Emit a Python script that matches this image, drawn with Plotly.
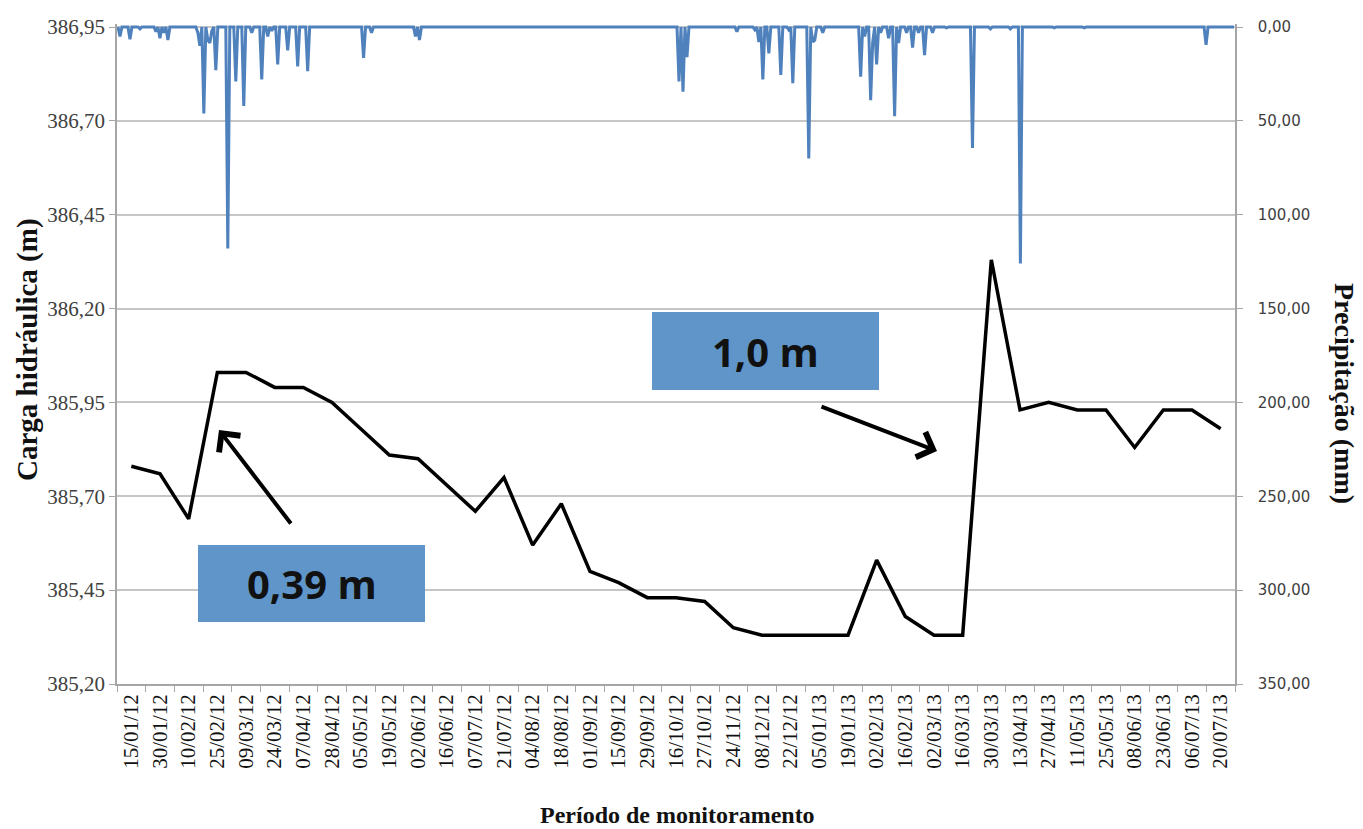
import pandas as pd
import plotly.graph_objects as go

# Datas de leitura do piezômetro (eixo de categorias)
datas = [
    "15/01/12", "30/01/12", "10/02/12", "25/02/12", "09/03/12", "24/03/12",
    "07/04/12", "28/04/12", "05/05/12", "19/05/12", "02/06/12", "16/06/12",
    "07/07/12", "21/07/12", "04/08/12", "18/08/12", "01/09/12", "15/09/12",
    "29/09/12", "16/10/12", "27/10/12", "24/11/12", "08/12/12", "22/12/12",
    "05/01/13", "19/01/13", "02/02/13", "16/02/13", "02/03/13", "16/03/13",
    "30/03/13", "13/04/13", "27/04/13", "11/05/13", "25/05/13", "08/06/13",
    "23/06/13", "06/07/13", "20/07/13",
]

# Carga hidráulica medida (m)
carga = [
    385.78, 385.76, 385.64, 386.03, 386.03, 385.99,
    385.99, 385.95, 385.88, 385.81, 385.80, 385.73,
    385.66, 385.75, 385.57, 385.68, 385.50, 385.47,
    385.43, 385.43, 385.42, 385.35, 385.33, 385.33,
    385.33, 385.33, 385.53, 385.38, 385.33, 385.33,
    386.33, 385.93, 385.95, 385.93, 385.93, 385.83,
    385.93, 385.93, 385.88,
]

# Precipitação diária: período da série e dias com chuva (mm)
inicio_chuva = "2012-01-15"
fim_chuva = "2013-07-27"
chuva_datas = [
    "2012-01-16", "2012-01-21", "2012-01-26", "2012-02-03", "2012-02-05",
    "2012-02-07", "2012-02-09", "2012-02-24", "2012-02-25", "2012-02-27",
    "2012-02-29", "2012-03-01", "2012-03-02", "2012-03-04", "2012-03-10",
    "2012-03-14", "2012-03-18", "2012-03-22", "2012-03-27", "2012-03-30",
    "2012-04-01", "2012-04-04", "2012-04-09", "2012-04-14", "2012-04-19",
    "2012-05-17", "2012-05-21", "2012-06-12", "2012-06-14", "2012-10-22",
    "2012-10-24", "2012-10-26", "2012-11-20", "2012-11-29", "2012-12-01",
    "2012-12-03", "2012-12-06", "2012-12-12", "2012-12-16", "2012-12-18",
    "2012-12-26", "2012-12-28", "2012-12-29", "2013-01-02", "2013-01-21",
    "2013-01-23", "2013-01-26", "2013-01-27", "2013-01-29", "2013-01-31",
    "2013-02-04", "2013-02-07", "2013-02-09", "2013-02-13", "2013-02-16",
    "2013-02-19", "2013-02-22", "2013-02-26", "2013-03-05", "2013-03-18",
    "2013-03-27", "2013-04-06", "2013-04-11", "2013-04-28", "2013-05-13",
    "2013-07-13",
]
chuva_mm = [
    5.0, 6.5, 1.0, 2.5, 6.0,
    3.0, 7.0, 3.0, 10.0, 46.0,
    7.0, 8.5, 2.0, 23.0, 118.0,
    29.0, 42.0, 3.0, 28.0, 5.0,
    2.0, 20.0, 12.5, 21.0, 23.5,
    16.5, 3.0, 5.0, 7.0, 29.0,
    34.5, 16.0, 2.5, 1.5, 8.0,
    28.0, 14.0, 25.5, 1.5, 30.0,
    70.0, 8.0, 7.0, 3.0, 26.5,
    5.0, 39.0, 8.5, 20.0, 3.0,
    6.0, 47.5, 8.5, 3.0, 11.0,
    3.0, 15.0, 3.0, 0.5, 64.5,
    1.0, 1.0, 126.0, 0.5, 0.5,
    9.5,
]

# Série diária completa (dias sem registro = 0 mm)
dias = pd.date_range(inicio_chuva, fim_chuva, freq="D")
chuva = pd.Series(0.0, index=dias)
chuva[pd.to_datetime(chuva_datas)] = chuva_mm

# Eixos
carga_ticks = [385.20, 385.45, 385.70, 385.95, 386.20, 386.45, 386.70, 386.95]
chuva_ticks = [0, 50, 100, 150, 200, 250, 300, 350]

W, H = 1363, 829
L, R, T, B = 117, 1235, 24, 684          # área de plotagem em pixels
px_por_m = (684 - 27) / (386.95 - 385.20)
px_por_mm = (684 - 27) / 350.0
topo_carga = 385.20 + (B - T) / px_por_m
topo_chuva = 350.0 - (B - T) / px_por_mm

def px(xp):
    return (xp - L) / (R - L)

def py(yp):
    return (B - yp) / (B - T)

serif = "Liberation Serif, Times New Roman, serif"
eixo_cor = "#a6a6a6"

fig = go.Figure()

fig.add_trace(go.Scatter(
    x=datas, y=carga, mode="lines",
    line=dict(color="#000000", width=3.5),
    xaxis="x", yaxis="y", showlegend=False,
))

fig.add_trace(go.Scatter(
    x=chuva.index, y=chuva.values, mode="lines",
    line=dict(color="#4f81bd", width=3),
    xaxis="x2", yaxis="y2", showlegend=False,
))

fig.update_layout(
    width=W, height=H,
    margin=dict(l=L, r=W - R, t=T, b=H - B),
    paper_bgcolor="white", plot_bgcolor="white",
    separators=",.",
    font=dict(family=serif, color="#222222"),
    xaxis=dict(
        type="category", categoryorder="array", categoryarray=datas,
        range=[-0.5, len(datas) - 0.5],
        tickson="boundaries", ticks="outside", ticklen=6, tickcolor=eixo_cor,
        tickangle=-90, tickfont=dict(family=serif, size=21, color="#111111"),
        showline=True, linecolor=eixo_cor, linewidth=1.5,
        showgrid=False, zeroline=False,
    ),
    yaxis=dict(
        range=[385.20, topo_carga],
        tickvals=carga_ticks, tickformat=".2f",
        ticks="outside", ticklen=6, tickcolor=eixo_cor,
        tickfont=dict(family=serif, size=21, color="#404040"),
        showline=True, linecolor=eixo_cor, linewidth=1.5,
        showgrid=True, gridcolor="#c6c6c6", gridwidth=1.5,
        zeroline=False,
    ),
    xaxis2=dict(
        type="date", overlaying="x", visible=False,
        range=[dias[0] - pd.Timedelta(hours=12), dias[-1] + pd.Timedelta(hours=12)],
    ),
    yaxis2=dict(
        overlaying="y", side="right", anchor="x",
        range=[350, topo_chuva],
        tickvals=chuva_ticks, tickformat=".2f",
        ticks="outside", ticklen=6, tickcolor=eixo_cor, ticklabelstandoff=12,
        tickfont=dict(family="DejaVu Sans, Verdana, sans-serif", size=15, color="#404040"),
        showline=True, linecolor=eixo_cor, linewidth=1.5,
        showgrid=False, zeroline=False,
    ),
)

# Títulos dos eixos
titulos = [
    ("<b>Carga hidráulica (m)</b>", 27, 350, -90, 29),
    ("<b>Precipitação (mm)</b>", 1345, 393, 90, 28),
    ("<b>Período de monitoramento</b>", 677, 815, 0, 24),
]
for texto, tx, ty, ang, tam in titulos:
    fig.add_annotation(
        text=texto, xref="paper", yref="paper",
        x=px(tx), y=py(ty), xanchor="center", yanchor="middle",
        textangle=ang, showarrow=False,
        font=dict(family=serif, size=tam, color="#111111"),
    )

# Caixas de destaque
caixa_cor = "#5f95c9"
caixas = [
    ((198, 545, 425, 622), "0,39 m"),
    ((652, 312, 879, 390), "1,0 m"),
]
for (x0, y0, x1, y1), rotulo in caixas:
    fig.add_shape(
        type="rect", xref="paper", yref="paper",
        x0=px(x0), x1=px(x1), y0=py(y1), y1=py(y0),
        fillcolor=caixa_cor, line=dict(width=0), layer="above",
    )
    fig.add_annotation(
        text="<b>" + rotulo + "</b>", xref="paper", yref="paper",
        x=px((x0 + x1) / 2), y=py((y0 + y1) / 2),
        xanchor="center", yanchor="middle", showarrow=False,
        font=dict(family="Open Sans, sans-serif", size=40, color="#111111"),
    )

# Setas indicando a variação de carga
setas = [
    ((219, 430), (292, 525)),
    ((937, 451), (820, 406)),
]
for (hx, hy), (tx, ty) in setas:
    fig.add_annotation(
        text="", xref="paper", yref="paper",
        x=px(hx), y=py(hy), ax=tx - hx, ay=ty - hy,
        showarrow=True, arrowhead=4, arrowsize=1.3, arrowwidth=4,
        arrowcolor="#000000", standoff=0,
    )

fig.write_html("out.html")
